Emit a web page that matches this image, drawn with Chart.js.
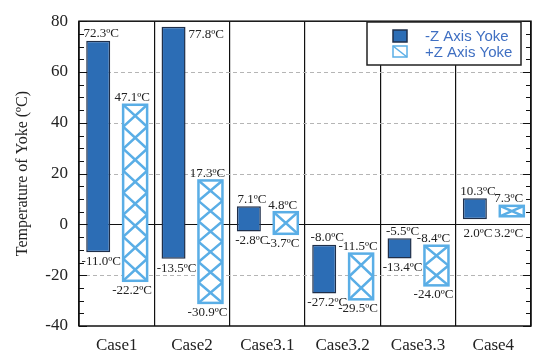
<!DOCTYPE html>
<html>
<head>
<meta charset="utf-8">
<script src="https://cdn.jsdelivr.net/npm/chart.js@4.4.0/dist/chart.umd.min.js"></script>
<style>
  html, body { margin: 0; padding: 0; background: #fff; }
  #wrap { width: 535px; height: 361px; }
</style>
</head>
<body>
<div id="wrap"><canvas id="c" width="535" height="361"></canvas></div>
<script>
const cases = ["Case1", "Case2", "Case3.1", "Case3.2", "Case3.3", "Case4"];
// -Z axis yoke: min / max temperature
const negMin = [-11.0, -13.5, -2.8, -27.2, -13.4, 2.0];
const negMax = [72.3, 77.8, 7.1, -8.0, -5.5, 10.3];
// +Z axis yoke
const posMin = [-22.2, -30.9, -3.7, -29.5, -24.0, 3.2];
const posMax = [47.1, 17.3, 4.8, -11.5, -8.4, 7.3];
const yTicks = [-40, -20, 0, 20, 40, 60, 80];

const serif = "'Liberation Serif', 'Times New Roman', serif";
const darkBlue = "#2C6DB5";
const lightBlue = "#5AAEE6";

const fmt = (v) => v.toFixed(1) + "ºC";

// draws hatch, frame, minor ticks, legend and value labels
const extras = {
  id: "extras",
  beforeDatasetsDraw(chart) {
    const { ctx, chartArea: a, scales: { y } } = chart;
    ctx.save();
    yTicks.forEach((v) => {
      if (v === -40 || v === 80) return;
      const py = Math.round(y.getPixelForValue(v)) + 0.5;
      ctx.beginPath();
      if (v === 0) {
        ctx.strokeStyle = "#111";
        ctx.lineWidth = 1.2;
        ctx.setLineDash([]);
      } else {
        ctx.strokeStyle = "#b5b5b5";
        ctx.lineWidth = 1;
        ctx.setLineDash([4, 3]);
      }
      ctx.moveTo(a.left, py);
      ctx.lineTo(a.right, py);
      ctx.stroke();
    });
    ctx.restore();
  },
  afterDatasetsDraw(chart) {
    const { ctx, chartArea: a, scales: { y } } = chart;
    ctx.save();

    // cross hatch for +Z bars
    const meta = chart.getDatasetMeta(1);
    meta.data.forEach((bar) => {
      const left = bar.x - bar.width / 2;
      const top = Math.min(bar.y, bar.base);
      const h = Math.abs(bar.base - bar.y);
      const w = bar.width;
      const n = Math.max(1, Math.round(h / 22));
      const ch = h / n;
      ctx.save();
      ctx.beginPath();
      ctx.rect(left, top, w, h);
      ctx.clip();
      ctx.strokeStyle = lightBlue;
      ctx.lineWidth = 2.5;
      ctx.beginPath();
      for (let i = 0; i < n; i++) {
        const t = top + i * ch;
        ctx.moveTo(left, t);
        ctx.lineTo(left + w, t + ch);
        ctx.moveTo(left + w, t);
        ctx.lineTo(left, t + ch);
      }
      ctx.stroke();
      ctx.restore();
      ctx.strokeStyle = lightBlue;
      ctx.lineWidth = 2.5;
      ctx.strokeRect(left, top, w, h);
    });

    // frame
    ctx.strokeStyle = "#111";
    ctx.lineWidth = 1.5;
    ctx.strokeRect(a.left, a.top, a.right - a.left, a.bottom - a.top);

    // minor + major inside ticks on left and right axes
    ctx.lineWidth = 1.2;
    for (let v = -40; v <= 80; v += 5) {
      const py = Math.round(y.getPixelForValue(v)) + 0.5;
      const len = v % 20 === 0 ? 8 : 5;
      ctx.beginPath();
      ctx.moveTo(a.left, py);
      ctx.lineTo(a.left + len, py);
      ctx.moveTo(a.right, py);
      ctx.lineTo(a.right - len, py);
      ctx.stroke();
    }

    // value labels
    const zero = y.getPixelForValue(0);
    ctx.font = "13px " + serif;
    ctx.fillStyle = "#222";
    ctx.textAlign = "center";
    ctx.textBaseline = "middle";
    [[0, negMin, negMax, 3], [1, posMin, posMax, -3]].forEach(([di, mins, maxs, dx]) => {
      chart.getDatasetMeta(di).data.forEach((bar, i) => {
        const top = y.getPixelForValue(maxs[i]);
        const bot = y.getPixelForValue(mins[i]);
        if (top - 12 < a.top) {
          ctx.textAlign = "left";
          ctx.fillText(fmt(maxs[i]), bar.x + bar.width / 2 + 3, top + 8);
          ctx.textAlign = "center";
        } else {
          ctx.fillText(fmt(maxs[i]), bar.x + dx, top - 7);
        }
        ctx.fillText(fmt(mins[i]), bar.x + dx, Math.max(bot, zero) + 9.5);
      });
    });

    // legend
    const lx = 367, ly = 22, lw = 154, lh = 43;
    ctx.fillStyle = "#fff";
    ctx.fillRect(lx, ly, lw, lh);
    ctx.strokeStyle = "#222";
    ctx.lineWidth = 1.5;
    ctx.strokeRect(lx, ly, lw, lh);

    ctx.fillStyle = darkBlue;
    ctx.fillRect(393, 30, 14, 12);
    ctx.strokeStyle = "#1F2F4A";
    ctx.lineWidth = 1.5;
    ctx.strokeRect(393, 30, 14, 12);

    ctx.strokeStyle = lightBlue;
    ctx.lineWidth = 1.5;
    ctx.strokeRect(393, 46, 14, 11);
    ctx.beginPath();
    ctx.moveTo(393, 46);
    ctx.lineTo(407, 57);
    ctx.stroke();

    ctx.font = "15px 'Liberation Sans', Arial, sans-serif";
    ctx.fillStyle = "#3F6FC2";
    ctx.textAlign = "left";
    ctx.fillText("-Z Axis Yoke", 425, 37);
    ctx.fillText("+Z Axis Yoke", 425, 53);

    ctx.restore();
  }
};

new Chart(document.getElementById("c"), {
  type: "bar",
  data: {
    labels: cases,
    datasets: [
      {
        label: "-Z Axis Yoke",
        data: cases.map((_, i) => [negMin[i], negMax[i]]),
        backgroundColor: darkBlue,
        borderColor: "#1F2F4A",
        borderWidth: 1.5,
        borderSkipped: false
      },
      {
        label: "+Z Axis Yoke",
        data: cases.map((_, i) => [posMin[i], posMax[i]]),
        backgroundColor: "#fff",
        borderColor: lightBlue,
        borderWidth: 0,
        borderSkipped: false
      }
    ]
  },
  options: {
    responsive: false,
    animation: false,
    devicePixelRatio: 1,
    categoryPercentage: 0.98,
    barPercentage: 0.65,
    layout: { padding: { top: 10, right: 4, left: 0, bottom: 0 } },
    plugins: {
      legend: { display: false },
      tooltip: { enabled: false }
    },
    scales: {
      x: {
        offset: true,
        grid: { offset: true, color: "#111", lineWidth: 1.2, drawTicks: false },
        border: { display: false },
        ticks: { color: "#222", font: { family: serif, size: 17 }, padding: 9 },
        afterFit: (s) => { s.height = 35; }
      },
      y: {
        min: -40,
        max: 80,
        afterBuildTicks: (s) => { s.ticks = yTicks.map((v) => ({ value: v })); },
        grid: { display: false, drawTicks: false },
        border: { display: false },
        ticks: { color: "#222", font: { family: serif, size: 17 }, padding: 11 },
        title: {
          display: true,
          text: "Temperature of Yoke (ºC)",
          color: "#222",
          font: { family: serif, size: 16 },
          padding: { top: 13, bottom: 0 }
        },
        afterFit: (s) => { s.width = 79; }
      }
    }
  },
  plugins: [extras]
});
</script>
</body>
</html>
